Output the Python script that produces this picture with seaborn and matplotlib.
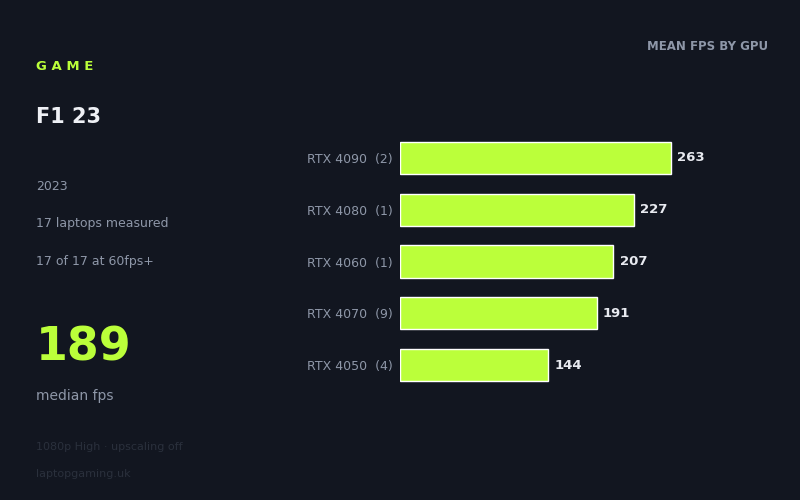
import matplotlib
matplotlib.use("Agg")
import matplotlib.pyplot as plt
import seaborn as sns
import pandas as pd

gpus = ["RTX 4090  (2)", "RTX 4080  (1)", "RTX 4060  (1)", "RTX 4070  (9)", "RTX 4050  (4)"]
fps = [263, 227, 207, 191, 144]

BG = "#121620"
GREEN = "#bbff3a"
sns.set_theme(style="dark")
plt.rcParams['font.family'] = ['DejaVu Sans']

fig = plt.figure(figsize=(8, 5), dpi=100, facecolor=BG)
ax = fig.add_axes([0.5, 1 - 391/500, 0.4625, (391-132)/500])
ax.set_facecolor(BG)
df = pd.DataFrame({"gpu": gpus, "fps": fps})
sns.barplot(data=df, x="fps", y="gpu", color=GREEN, saturation=1, width=0.62, ax=ax)
ax.set_xlim(0, 359)
ax.set_ylim(4.5, -0.5)
for i, v in enumerate(fps):
    ax.text(v + 6, i, str(v), color="#e8eaf0", fontsize=9.5, fontweight="bold", va="center", ha="left")
ax.set_xlabel(""); ax.set_ylabel("")
ax.set_xticks([])
ax.tick_params(axis="y", length=0, pad=5, labelcolor="#8e97a8", labelsize=9)
for s in ax.spines.values():
    s.set_visible(False)
ax.grid(False)

fig.text(768/800, 1-46/500, "MEAN FPS BY GPU", color="#8e97a8", fontsize=8.5, fontweight="bold", ha="right", va="center")
fig.text(36/800, 1-66/500, "G A M E", color=GREEN, fontsize=9.5, fontweight="bold", va="center")
fig.text(36/800, 1-117/500, "F1 23", color="#eef0f5", fontsize=15, fontweight="bold", va="center")
for y, t in [(186, "2023"), (223, "17 laptops measured"), (261, "17 of 17 at 60fps+")]:
    fig.text(36/800, 1-y/500, t, color="#8e97a8", fontsize=9, va="center")
fig.text(36/800, 1-348/500, "189", color=GREEN, fontsize=33, fontweight="bold", va="center")
fig.text(36/800, 1-396/500, "median fps", color="#8e97a8", fontsize=10, va="center")
fig.text(36/800, 1-447/500, "1080p High · upscaling off", color="#2a303c", fontsize=8, va="center")
fig.text(36/800, 1-474/500, "laptopgaming.uk", color="#2a303c", fontsize=8, va="center")

fig.savefig("out.png", facecolor=BG)
